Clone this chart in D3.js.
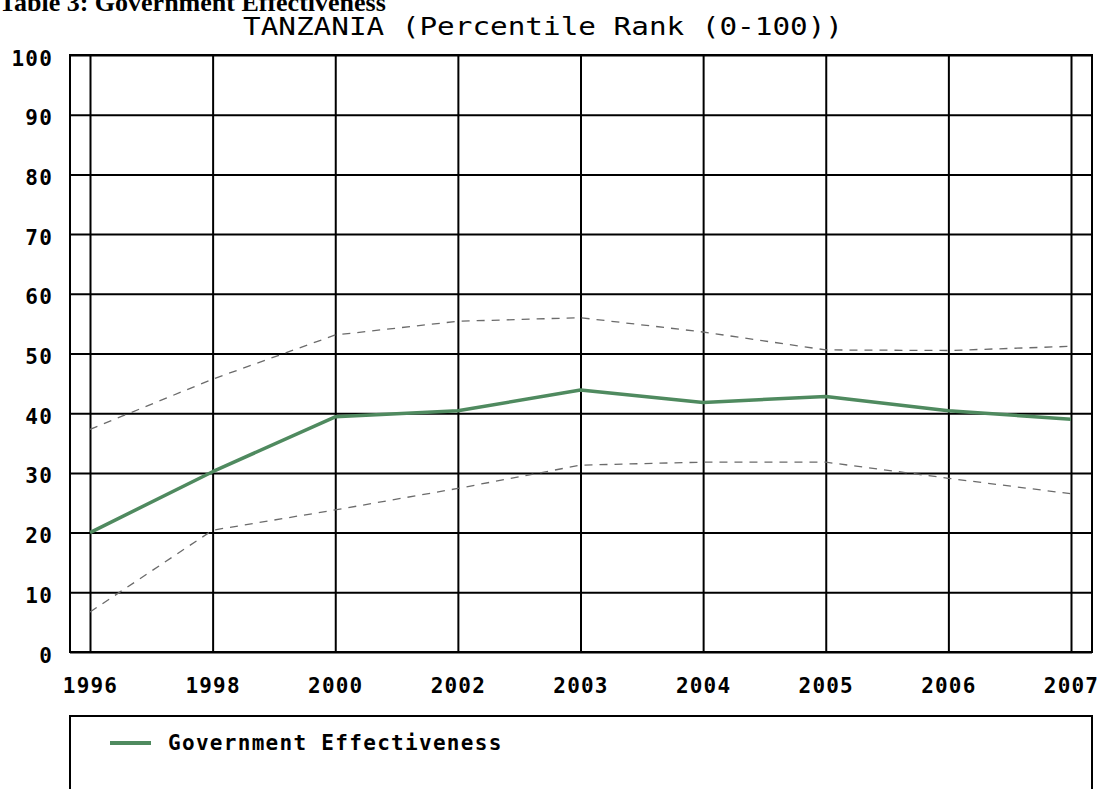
<!DOCTYPE html>
<html>
<head>
<meta charset="utf-8">
<script src="https://cdn.jsdelivr.net/npm/d3@7"></script>
<style>
  html, body { margin: 0; padding: 0; background: #fff; }
  svg { display: block; }
</style>
</head>
<body>
<svg id="chart" width="1098" height="789"></svg>
<script>
const years = ["1996","1998","2000","2002","2003","2004","2005","2006","2007"];
const govEffectiveness = [20.0, 30.2, 39.4, 40.4, 43.9, 41.8, 42.8, 40.4, 39.0];
const upperBound = [37.3, 45.7, 53.1, 55.4, 56.0, 53.6, 50.6, 50.5, 51.2];
const lowerBound = [6.7, 20.4, 23.8, 27.4, 31.3, 31.8, 31.8, 29.1, 26.5];
const yTicks = [0, 10, 20, 30, 40, 50, 60, 70, 80, 90, 100];
const pageTitle = "Table 3: Government Effectiveness";
const chartTitle = "TANZANIA (Percentile Rank (0-100))";
const legendLabel = "Government Effectiveness";

const svg = d3.select("#chart");
const frame = { left: 70, right: 1092, top: 55, bottom: 652 };
const x = d3.scalePoint().domain(years).range([90, 1071]);
const y = d3.scaleLinear().domain([0, 100]).range([frame.bottom, frame.top]);

const monoBold = "'DejaVu Sans Mono', monospace";
const green = "#4f8a5f";

svg.append("rect").attr("width", 1098).attr("height", 789).attr("fill", "#fff");

// page heading (cut at the top)
svg.append("text")
  .attr("x", -1).attr("y", 11)
  .attr("font-family", "'Liberation Serif', 'Times New Roman', serif")
  .attr("font-weight", "bold").attr("font-size", 26)
  .attr("fill", "#000")
  .text(pageTitle);

// chart title
svg.append("text")
  .attr("x", 243).attr("y", 35)
  .attr("font-family", monoBold).attr("font-size", 25)
  .attr("textLength", 600).attr("lengthAdjust", "spacingAndGlyphs")
  .attr("fill", "#000")
  .text(chartTitle);

// y axis + horizontal gridlines
const yAxis = svg.append("g")
  .attr("transform", `translate(${frame.left},0)`)
  .call(d3.axisLeft(y).tickValues(yTicks).tickSize(-(frame.right - frame.left)).tickFormat(d3.format("d")));
yAxis.select(".domain").remove();
yAxis.selectAll(".tick line").attr("stroke", "#000").attr("stroke-width", 2);
yAxis.selectAll(".tick text")
  .attr("x", -17).attr("dy", null).attr("y", 10)
  .attr("text-anchor", "end")
  .attr("font-family", monoBold).attr("font-weight", "bold")
  .attr("font-size", 21).attr("letter-spacing", 1.2)
  .attr("fill", "#000");

// x axis + vertical gridlines
const xAxis = svg.append("g")
  .attr("transform", `translate(0,${frame.bottom})`)
  .call(d3.axisBottom(x).tickSize(-(frame.bottom - frame.top)));
xAxis.select(".domain").remove();
xAxis.selectAll(".tick line").attr("stroke", "#000").attr("stroke-width", 2);
xAxis.selectAll(".tick text")
  .attr("y", 41).attr("dy", null)
  .attr("text-anchor", "middle")
  .attr("font-family", monoBold).attr("font-weight", "bold")
  .attr("font-size", 21).attr("letter-spacing", 1.2)
  .attr("fill", "#000");

// frame
svg.append("rect")
  .attr("x", frame.left).attr("y", frame.top)
  .attr("width", frame.right - frame.left).attr("height", frame.bottom - frame.top)
  .attr("fill", "none").attr("stroke", "#000").attr("stroke-width", 2);

const line = d3.line().x((d, i) => x(years[i])).y(d => y(d));

// confidence bounds
[upperBound, lowerBound].forEach(arr => {
  svg.append("path")
    .attr("d", line(arr))
    .attr("fill", "none").attr("stroke", "#6b6b6b")
    .attr("stroke-width", 1.3).attr("stroke-dasharray", "8,7");
});

// main series
svg.append("path")
  .attr("d", line(govEffectiveness))
  .attr("fill", "none").attr("stroke", green)
  .attr("stroke-width", 3.5).attr("stroke-linejoin", "round");

// legend
svg.append("rect")
  .attr("x", frame.left).attr("y", 716)
  .attr("width", frame.right - frame.left).attr("height", 120)
  .attr("fill", "none").attr("stroke", "#000").attr("stroke-width", 2);
svg.append("line")
  .attr("x1", 110).attr("x2", 151).attr("y1", 743).attr("y2", 743)
  .attr("stroke", green).attr("stroke-width", 4);
svg.append("text")
  .attr("x", 168).attr("y", 750)
  .attr("font-family", monoBold).attr("font-weight", "bold")
  .attr("font-size", 21).attr("letter-spacing", 1.3)
  .attr("fill", "#000")
  .text(legendLabel);
</script>
</body>
</html>
